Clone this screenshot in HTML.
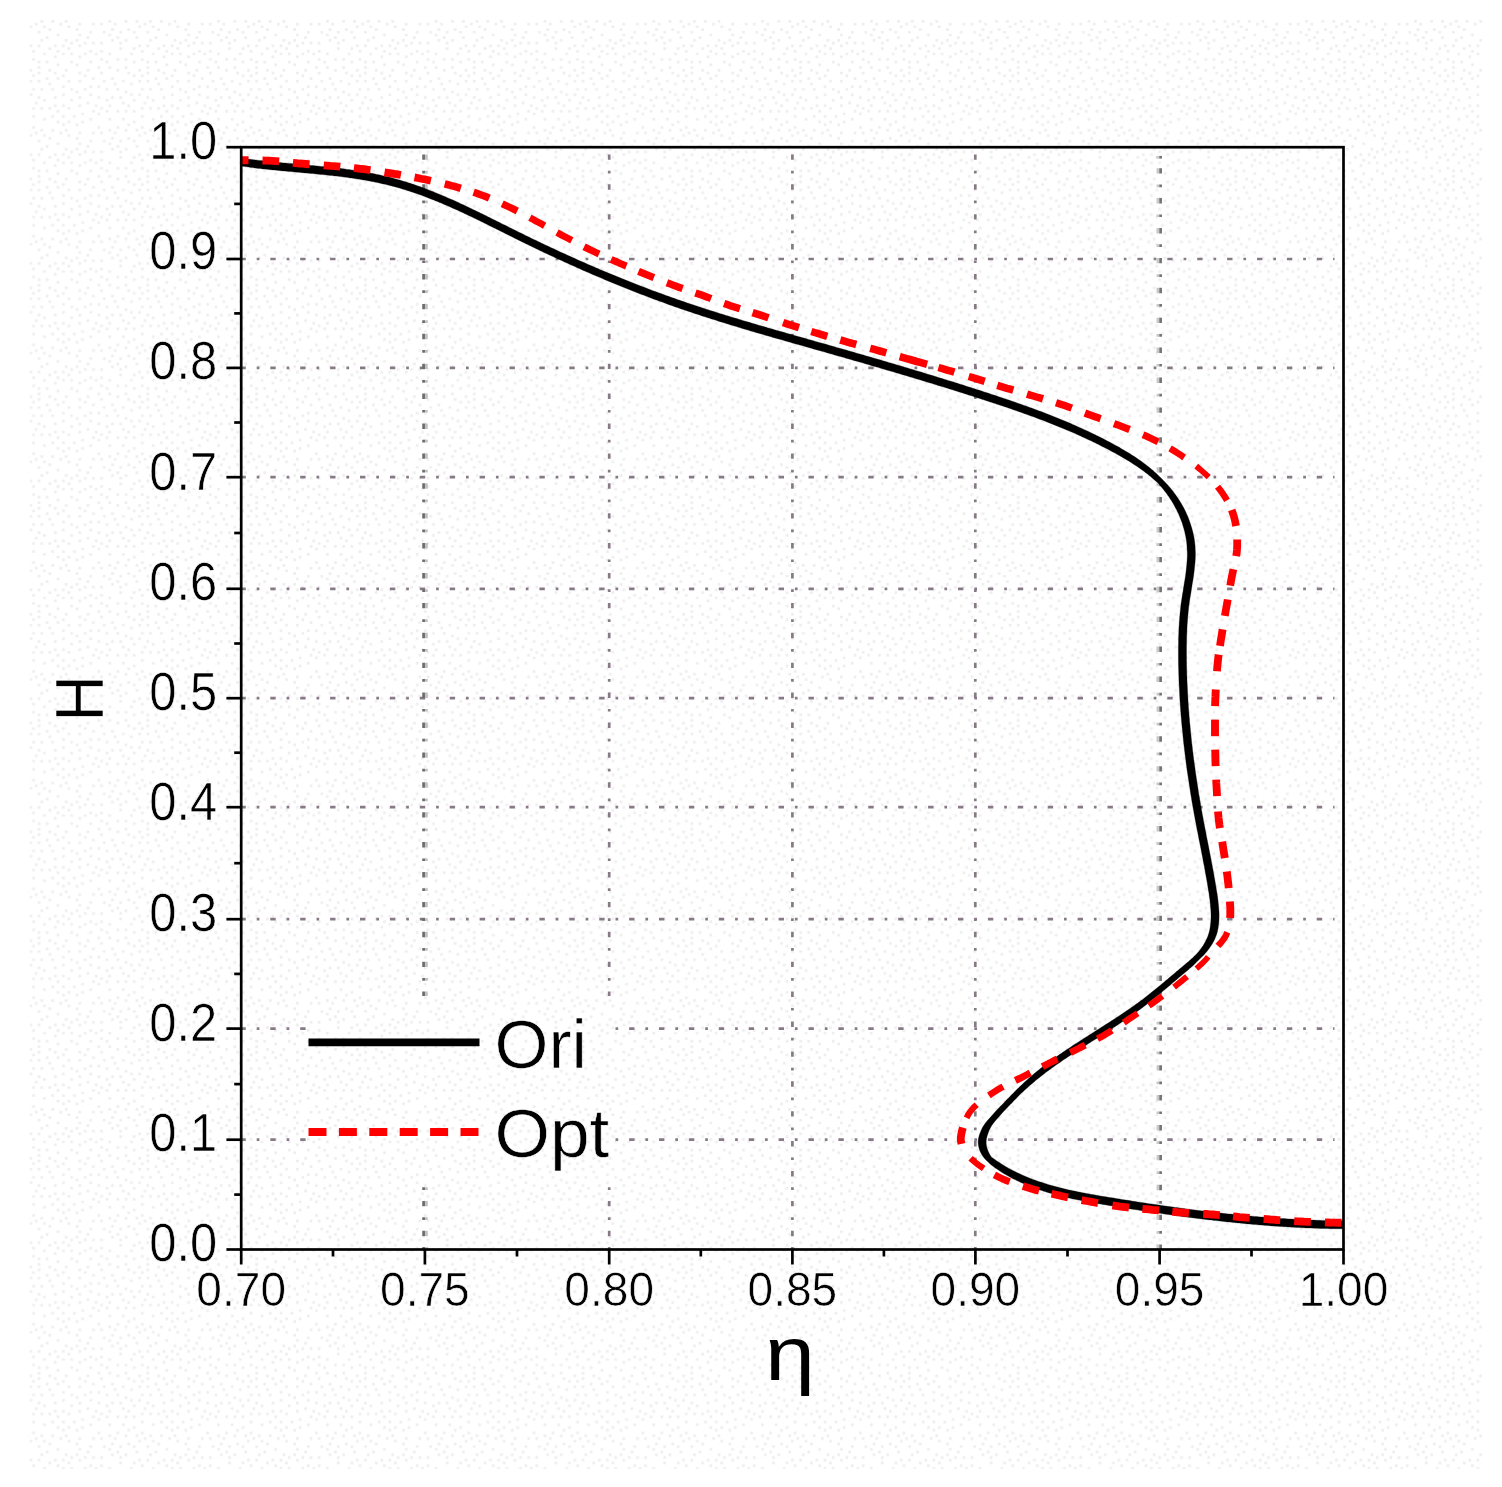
<!DOCTYPE html>
<html lang="en">
<head>
<meta charset="utf-8">
<title>H vs η</title>
<style>
html,body{margin:0;padding:0;background:#fff;}
body{width:1502px;height:1487px;overflow:hidden;}
svg{display:block;}
text{font-family:"Liberation Sans",sans-serif;fill:#000;stroke:#fff;stroke-width:0.6px;}
.tick{font-size:47.5px;}
.ytick{font-size:53px;}
.title{font-size:67px;stroke-width:0.5px;}
.leg{font-size:68px;}
</style>
</head>
<body>
<svg width="1502" height="1487" viewBox="0 0 1502 1487">
<defs>
<pattern id="dots" x="29.5" y="20" width="108.80" height="108.80" patternUnits="userSpaceOnUse">
<path fill="#eeeeee" d="M0.0 5.4h2.7v2.7h-2.7zM0.0 24.5h2.7v2.7h-2.7zM0.0 49.0h2.7v2.7h-2.7zM0.0 59.8h2.7v2.7h-2.7zM0.0 73.4h2.7v2.7h-2.7zM2.7 29.9h2.7v2.7h-2.7zM2.7 38.1h2.7v2.7h-2.7zM2.7 54.4h2.7v2.7h-2.7zM2.7 68.0h2.7v2.7h-2.7zM2.7 87.0h2.7v2.7h-2.7zM2.7 95.2h2.7v2.7h-2.7zM2.7 106.1h2.7v2.7h-2.7zM5.4 2.7h2.7v2.7h-2.7zM5.4 81.6h2.7v2.7h-2.7zM8.2 10.9h2.7v2.7h-2.7zM8.2 24.5h2.7v2.7h-2.7zM8.2 40.8h2.7v2.7h-2.7zM8.2 46.2h2.7v2.7h-2.7zM8.2 51.7h2.7v2.7h-2.7zM8.2 59.8h2.7v2.7h-2.7zM8.2 76.2h2.7v2.7h-2.7zM10.9 0.0h2.7v2.7h-2.7zM10.9 19.0h2.7v2.7h-2.7zM10.9 68.0h2.7v2.7h-2.7zM10.9 87.0h2.7v2.7h-2.7zM13.6 5.4h2.7v2.7h-2.7zM13.6 32.6h2.7v2.7h-2.7zM13.6 78.9h2.7v2.7h-2.7zM13.6 97.9h2.7v2.7h-2.7zM16.3 16.3h2.7v2.7h-2.7zM16.3 40.8h2.7v2.7h-2.7zM16.3 57.1h2.7v2.7h-2.7zM19.0 8.2h2.7v2.7h-2.7zM19.0 27.2h2.7v2.7h-2.7zM19.0 49.0h2.7v2.7h-2.7zM19.0 62.6h2.7v2.7h-2.7zM19.0 87.0h2.7v2.7h-2.7zM21.8 0.0h2.7v2.7h-2.7zM21.8 68.0h2.7v2.7h-2.7zM21.8 95.2h2.7v2.7h-2.7zM24.5 24.5h2.7v2.7h-2.7zM24.5 35.4h2.7v2.7h-2.7zM24.5 51.7h2.7v2.7h-2.7zM24.5 76.2h2.7v2.7h-2.7zM24.5 84.3h2.7v2.7h-2.7zM27.2 13.6h2.7v2.7h-2.7zM27.2 29.9h2.7v2.7h-2.7zM27.2 43.5h2.7v2.7h-2.7zM27.2 57.1h2.7v2.7h-2.7zM27.2 89.8h2.7v2.7h-2.7zM27.2 100.6h2.7v2.7h-2.7zM29.9 2.7h2.7v2.7h-2.7zM32.6 24.5h2.7v2.7h-2.7zM32.6 32.6h2.7v2.7h-2.7zM32.6 54.4h2.7v2.7h-2.7zM32.6 65.3h2.7v2.7h-2.7zM32.6 73.4h2.7v2.7h-2.7zM32.6 84.3h2.7v2.7h-2.7zM32.6 95.2h2.7v2.7h-2.7zM32.6 103.4h2.7v2.7h-2.7zM35.4 0.0h2.7v2.7h-2.7zM35.4 19.0h2.7v2.7h-2.7zM35.4 49.0h2.7v2.7h-2.7zM38.1 5.4h2.7v2.7h-2.7zM38.1 27.2h2.7v2.7h-2.7zM38.1 59.8h2.7v2.7h-2.7zM38.1 87.0h2.7v2.7h-2.7zM38.1 100.6h2.7v2.7h-2.7zM40.8 21.8h2.7v2.7h-2.7zM40.8 32.6h2.7v2.7h-2.7zM40.8 40.8h2.7v2.7h-2.7zM40.8 68.0h2.7v2.7h-2.7zM40.8 78.9h2.7v2.7h-2.7zM43.5 95.2h2.7v2.7h-2.7zM46.2 8.2h2.7v2.7h-2.7zM46.2 19.0h2.7v2.7h-2.7zM46.2 43.5h2.7v2.7h-2.7zM46.2 70.7h2.7v2.7h-2.7zM46.2 103.4h2.7v2.7h-2.7zM49.0 2.7h2.7v2.7h-2.7zM49.0 13.6h2.7v2.7h-2.7zM49.0 24.5h2.7v2.7h-2.7zM49.0 35.4h2.7v2.7h-2.7zM49.0 51.7h2.7v2.7h-2.7zM49.0 59.8h2.7v2.7h-2.7zM49.0 76.2h2.7v2.7h-2.7zM49.0 84.3h2.7v2.7h-2.7zM51.7 92.5h2.7v2.7h-2.7zM51.7 100.6h2.7v2.7h-2.7zM54.4 21.8h2.7v2.7h-2.7zM54.4 32.6h2.7v2.7h-2.7zM54.4 54.4h2.7v2.7h-2.7zM54.4 68.0h2.7v2.7h-2.7zM57.1 16.3h2.7v2.7h-2.7zM57.1 49.0h2.7v2.7h-2.7zM57.1 81.6h2.7v2.7h-2.7zM59.8 10.9h2.7v2.7h-2.7zM59.8 29.9h2.7v2.7h-2.7zM59.8 40.8h2.7v2.7h-2.7zM59.8 65.3h2.7v2.7h-2.7zM59.8 73.4h2.7v2.7h-2.7zM59.8 97.9h2.7v2.7h-2.7zM62.6 2.7h2.7v2.7h-2.7zM62.6 21.8h2.7v2.7h-2.7zM62.6 57.1h2.7v2.7h-2.7zM62.6 89.8h2.7v2.7h-2.7zM65.3 32.6h2.7v2.7h-2.7zM65.3 84.3h2.7v2.7h-2.7zM68.0 46.2h2.7v2.7h-2.7zM68.0 65.3h2.7v2.7h-2.7zM68.0 76.2h2.7v2.7h-2.7zM68.0 92.5h2.7v2.7h-2.7zM68.0 106.1h2.7v2.7h-2.7zM70.7 2.7h2.7v2.7h-2.7zM70.7 21.8h2.7v2.7h-2.7zM70.7 29.9h2.7v2.7h-2.7zM70.7 38.1h2.7v2.7h-2.7zM70.7 51.7h2.7v2.7h-2.7zM70.7 87.0h2.7v2.7h-2.7zM73.4 10.9h2.7v2.7h-2.7zM73.4 59.8h2.7v2.7h-2.7zM76.2 40.8h2.7v2.7h-2.7zM76.2 68.0h2.7v2.7h-2.7zM76.2 78.9h2.7v2.7h-2.7zM76.2 89.8h2.7v2.7h-2.7zM78.9 0.0h2.7v2.7h-2.7zM78.9 13.6h2.7v2.7h-2.7zM78.9 32.6h2.7v2.7h-2.7zM78.9 46.2h2.7v2.7h-2.7zM78.9 84.3h2.7v2.7h-2.7zM78.9 97.9h2.7v2.7h-2.7zM81.6 8.2h2.7v2.7h-2.7zM81.6 19.0h2.7v2.7h-2.7zM81.6 57.1h2.7v2.7h-2.7zM81.6 76.2h2.7v2.7h-2.7zM84.3 2.7h2.7v2.7h-2.7zM84.3 62.6h2.7v2.7h-2.7zM87.0 16.3h2.7v2.7h-2.7zM87.0 38.1h2.7v2.7h-2.7zM87.0 49.0h2.7v2.7h-2.7zM87.0 68.0h2.7v2.7h-2.7zM87.0 89.8h2.7v2.7h-2.7zM87.0 106.1h2.7v2.7h-2.7zM89.8 10.9h2.7v2.7h-2.7zM89.8 21.8h2.7v2.7h-2.7zM89.8 27.2h2.7v2.7h-2.7zM89.8 76.2h2.7v2.7h-2.7zM92.5 59.8h2.7v2.7h-2.7zM92.5 81.6h2.7v2.7h-2.7zM92.5 97.9h2.7v2.7h-2.7zM95.2 0.0h2.7v2.7h-2.7zM95.2 19.0h2.7v2.7h-2.7zM95.2 38.1h2.7v2.7h-2.7zM95.2 46.2h2.7v2.7h-2.7zM95.2 70.7h2.7v2.7h-2.7zM95.2 89.8h2.7v2.7h-2.7zM97.9 8.2h2.7v2.7h-2.7zM97.9 51.7h2.7v2.7h-2.7zM97.9 84.3h2.7v2.7h-2.7zM97.9 103.4h2.7v2.7h-2.7zM100.6 32.6h2.7v2.7h-2.7zM100.6 62.6h2.7v2.7h-2.7zM100.6 73.4h2.7v2.7h-2.7zM103.4 10.9h2.7v2.7h-2.7zM103.4 27.2h2.7v2.7h-2.7zM103.4 40.8h2.7v2.7h-2.7zM103.4 54.4h2.7v2.7h-2.7zM103.4 78.9h2.7v2.7h-2.7zM103.4 89.8h2.7v2.7h-2.7zM103.4 100.6h2.7v2.7h-2.7zM106.1 0.0h2.7v2.7h-2.7zM106.1 16.3h2.7v2.7h-2.7z"/>
</pattern>
</defs>
<rect x="0" y="0" width="1502" height="1487" fill="#ffffff"/>
<rect x="29.5" y="20" width="1452.5" height="1449" fill="url(#dots)"/>
<g stroke="#877a87" stroke-width="2.7" stroke-dasharray="5.4 10.9 2.7 10.9" fill="none">
<line x1="240.4" y1="1139.7" x2="1334.5" y2="1139.7"/>
<line x1="240.4" y1="1028.6" x2="1334.5" y2="1028.6"/>
<line x1="240.4" y1="919.2" x2="1334.5" y2="919.2"/>
<line x1="240.4" y1="807.2" x2="1334.5" y2="807.2"/>
<line x1="240.4" y1="698.2" x2="1334.5" y2="698.2"/>
<line x1="240.4" y1="588.8" x2="1334.5" y2="588.8"/>
<line x1="240.4" y1="477.2" x2="1334.5" y2="477.2"/>
<line x1="240.4" y1="367.9" x2="1334.5" y2="367.9"/>
<line x1="240.4" y1="259.0" x2="1334.5" y2="259.0"/>
</g>
<g stroke-width="2.7" stroke-dasharray="5.4 10.9 2.7 10.9" fill="none">
<line x1="423.6" y1="154.4" x2="423.6" y2="1249.5" stroke="#6c6c6c"/>
<line x1="426.4" y1="154.4" x2="426.4" y2="1249.5" stroke="#c0c0c0"/>
<line x1="609.2" y1="154.4" x2="609.2" y2="1249.5" stroke="#877a87"/>
<line x1="792.4" y1="154.4" x2="792.4" y2="1249.5" stroke="#877a87"/>
<line x1="975.3" y1="154.4" x2="975.3" y2="1249.5" stroke="#877a87"/>
<line x1="1157.9" y1="168.2" x2="1157.9" y2="1249.5" stroke="#c8c8c8"/>
<line x1="1157.9" y1="155.9" x2="1157.9" y2="158.6" stroke="#c8c8c8" stroke-dasharray="none"/>
<line x1="1160.6" y1="168.2" x2="1160.6" y2="1249.5" stroke="#747474"/>
<line x1="1160.6" y1="155.9" x2="1160.6" y2="158.6" stroke="#747474" stroke-dasharray="none"/>
</g>
<rect x="306" y="996" width="308" height="188.5" fill="#ffffff"/>
<rect x="306" y="996" width="308" height="188.5" fill="url(#dots)"/>
<path d="M240.7 166.0 L242.7 166.3 L244.7 166.6 L246.6 166.8 L248.6 167.1 L250.6 167.4 L252.6 167.6 L254.6 167.9 L256.6 168.2 L258.6 168.4 L260.6 168.6 L262.6 168.9 L264.6 169.1 L266.6 169.3 L268.6 169.5 L270.6 169.7 L272.6 169.9 L274.6 170.1 L276.6 170.3 L278.6 170.5 L280.6 170.7 L282.6 170.9 L284.6 171.1 L286.6 171.2 L288.6 171.4 L290.6 171.6 L292.6 171.8 L294.6 172.0 L296.5 172.2 L298.5 172.3 L300.5 172.5 L302.5 172.7 L304.5 172.9 L306.5 173.1 L308.5 173.2 L310.5 173.4 L312.5 173.6 L314.4 173.8 L316.4 174.0 L318.4 174.2 L320.4 174.4 L322.4 174.6 L324.4 174.8 L326.3 175.0 L328.3 175.2 L330.3 175.4 L332.3 175.6 L334.3 175.9 L336.2 176.1 L338.2 176.3 L340.2 176.6 L342.2 176.8 L344.1 177.1 L346.1 177.3 L348.1 177.6 L350.0 177.9 L352.0 178.1 L354.0 178.4 L355.9 178.7 L357.9 179.0 L359.8 179.3 L361.8 179.7 L363.7 180.0 L365.7 180.3 L367.6 180.7 L369.6 181.0 L371.5 181.4 L373.5 181.8 L375.4 182.2 L377.3 182.6 L379.3 183.0 L381.2 183.4 L383.1 183.9 L385.1 184.3 L387.0 184.8 L388.9 185.2 L390.8 185.7 L392.7 186.2 L394.6 186.7 L396.5 187.3 L398.4 187.8 L400.3 188.3 L402.2 188.9 L404.1 189.5 L406.0 190.1 L407.9 190.7 L409.8 191.3 L411.6 191.9 L413.5 192.5 L415.4 193.2 L417.2 193.8 L419.1 194.5 L421.0 195.1 L422.8 195.8 L424.7 196.5 L426.5 197.2 L428.4 197.9 L430.2 198.7 L432.1 199.4 L433.9 200.1 L435.8 200.9 L437.6 201.6 L439.4 202.4 L441.3 203.1 L443.1 203.9 L444.9 204.7 L446.8 205.5 L448.6 206.3 L450.4 207.1 L452.2 207.9 L454.0 208.7 L455.8 209.5 L457.7 210.3 L459.5 211.2 L461.3 212.0 L463.1 212.8 L464.9 213.7 L466.7 214.5 L468.5 215.4 L470.3 216.2 L472.1 217.1 L473.9 218.0 L475.7 218.8 L477.5 219.7 L479.3 220.6 L481.1 221.5 L482.8 222.3 L484.6 223.2 L486.4 224.1 L488.2 225.0 L490.0 225.9 L491.8 226.8 L493.6 227.7 L495.4 228.5 L497.2 229.4 L498.9 230.3 L500.7 231.2 L502.5 232.1 L504.3 233.0 L506.1 233.9 L507.9 234.8 L509.7 235.7 L511.5 236.6 L513.3 237.5 L515.1 238.4 L516.9 239.3 L518.7 240.2 L520.4 241.0 L522.2 241.9 L524.0 242.8 L525.8 243.7 L527.7 244.6 L529.5 245.4 L531.3 246.3 L533.1 247.2 L534.9 248.1 L536.7 248.9 L538.5 249.8 L540.3 250.7 L542.1 251.5 L543.9 252.4 L545.7 253.2 L547.5 254.1 L549.3 254.9 L551.2 255.8 L553.0 256.6 L554.8 257.5 L556.6 258.3 L558.4 259.2 L560.3 260.0 L562.1 260.8 L563.9 261.7 L565.7 262.5 L567.6 263.3 L569.4 264.2 L571.2 265.0 L573.0 265.8 L574.9 266.6 L576.7 267.5 L578.5 268.3 L580.4 269.1 L582.2 269.9 L584.0 270.7 L585.9 271.5 L587.7 272.3 L589.5 273.1 L591.4 273.9 L593.2 274.7 L595.1 275.5 L596.9 276.3 L598.8 277.1 L600.6 277.8 L602.4 278.6 L604.3 279.4 L606.1 280.2 L608.0 281.0 L609.8 281.7 L611.7 282.5 L613.6 283.3 L615.4 284.0 L617.3 284.8 L619.1 285.5 L621.0 286.3 L622.8 287.0 L624.7 287.8 L626.6 288.5 L628.4 289.3 L630.3 290.0 L632.2 290.8 L634.0 291.5 L635.9 292.2 L637.8 293.0 L639.6 293.7 L641.5 294.4 L643.4 295.1 L645.2 295.8 L647.1 296.5 L649.0 297.3 L650.9 298.0 L652.8 298.7 L654.6 299.4 L656.5 300.1 L658.4 300.8 L660.3 301.5 L662.2 302.1 L664.1 302.8 L665.9 303.5 L667.8 304.2 L669.7 304.9 L671.6 305.5 L673.5 306.2 L675.4 306.9 L677.3 307.5 L679.2 308.2 L681.1 308.9 L683.0 309.5 L684.9 310.2 L686.8 310.8 L688.7 311.4 L690.6 312.1 L692.5 312.7 L694.4 313.4 L696.3 314.0 L698.2 314.6 L700.1 315.2 L702.0 315.9 L703.9 316.5 L705.8 317.1 L707.7 317.7 L709.6 318.3 L711.5 318.9 L713.5 319.5 L715.4 320.1 L717.3 320.8 L719.2 321.4 L721.1 321.9 L723.0 322.5 L724.9 323.1 L726.8 323.7 L728.8 324.3 L730.7 324.9 L732.6 325.5 L734.5 326.1 L736.4 326.6 L738.3 327.2 L740.3 327.8 L742.2 328.4 L744.1 329.0 L746.0 329.5 L747.9 330.1 L749.9 330.7 L751.8 331.2 L753.7 331.8 L755.6 332.4 L757.6 332.9 L759.5 333.5 L761.4 334.0 L763.3 334.6 L765.2 335.2 L767.2 335.7 L769.1 336.3 L771.0 336.8 L772.9 337.4 L774.9 337.9 L776.8 338.5 L778.7 339.0 L780.6 339.6 L782.6 340.1 L784.5 340.7 L786.4 341.2 L788.3 341.8 L790.3 342.3 L792.2 342.9 L794.1 343.4 L796.0 344.0 L798.0 344.5 L799.9 345.1 L801.8 345.6 L803.7 346.1 L805.7 346.7 L807.6 347.2 L809.5 347.8 L811.4 348.3 L813.4 348.9 L815.3 349.4 L817.2 350.0 L819.1 350.5 L821.0 351.0 L823.0 351.6 L824.9 352.1 L826.8 352.7 L828.7 353.2 L830.7 353.8 L832.6 354.3 L834.5 354.9 L836.4 355.4 L838.4 356.0 L840.3 356.5 L842.2 357.1 L844.1 357.6 L846.0 358.2 L848.0 358.7 L849.9 359.3 L851.8 359.8 L853.7 360.4 L855.6 360.9 L857.6 361.5 L859.5 362.0 L861.4 362.6 L863.3 363.1 L865.2 363.7 L867.2 364.3 L869.1 364.8 L871.0 365.4 L872.9 365.9 L874.8 366.5 L876.8 367.1 L878.7 367.6 L880.6 368.2 L882.5 368.7 L884.4 369.3 L886.4 369.9 L888.3 370.4 L890.2 371.0 L892.1 371.6 L894.0 372.1 L895.9 372.7 L897.9 373.3 L899.8 373.8 L901.7 374.4 L903.6 375.0 L905.5 375.5 L907.4 376.1 L909.3 376.7 L911.3 377.3 L913.2 377.8 L915.1 378.4 L917.0 379.0 L918.9 379.6 L920.8 380.1 L922.7 380.7 L924.6 381.3 L926.6 381.9 L928.5 382.5 L930.4 383.0 L932.3 383.6 L934.2 384.2 L936.1 384.8 L938.0 385.4 L939.9 386.0 L941.8 386.6 L943.7 387.1 L945.7 387.7 L947.6 388.3 L949.5 388.9 L951.4 389.5 L953.3 390.1 L955.2 390.7 L957.1 391.3 L959.0 391.9 L960.9 392.5 L962.8 393.1 L964.7 393.7 L966.6 394.3 L968.5 394.9 L970.4 395.5 L972.3 396.1 L974.2 396.8 L976.1 397.4 L978.0 398.0 L979.9 398.6 L981.8 399.2 L983.7 399.8 L985.6 400.4 L987.5 401.1 L989.4 401.7 L991.3 402.3 L993.2 402.9 L995.1 403.5 L997.0 404.2 L998.9 404.8 L1000.8 405.4 L1002.7 406.1 L1004.6 406.7 L1006.5 407.3 L1008.4 408.0 L1010.2 408.6 L1012.1 409.3 L1014.0 409.9 L1015.9 410.6 L1017.8 411.2 L1019.7 411.9 L1021.5 412.6 L1023.4 413.2 L1025.3 413.9 L1027.2 414.6 L1029.0 415.3 L1030.9 415.9 L1032.8 416.6 L1034.7 417.3 L1036.5 418.0 L1038.4 418.7 L1040.2 419.4 L1042.1 420.1 L1044.0 420.8 L1045.8 421.5 L1047.7 422.3 L1049.5 423.0 L1051.4 423.7 L1053.2 424.4 L1055.1 425.2 L1056.9 425.9 L1058.8 426.7 L1060.6 427.4 L1062.5 428.2 L1064.3 428.9 L1066.1 429.7 L1068.0 430.5 L1069.8 431.3 L1071.6 432.1 L1073.4 432.8 L1075.2 433.6 L1077.1 434.5 L1078.9 435.3 L1080.7 436.1 L1082.5 436.9 L1084.3 437.7 L1086.1 438.6 L1087.9 439.4 L1089.7 440.3 L1091.5 441.1 L1093.3 442.0 L1095.1 442.8 L1096.9 443.7 L1098.6 444.6 L1100.4 445.5 L1102.2 446.4 L1103.9 447.3 L1105.7 448.2 L1107.5 449.1 L1109.2 450.0 L1111.0 451.0 L1112.7 451.9 L1114.5 452.8 L1116.2 453.8 L1117.9 454.8 L1119.7 455.7 L1121.4 456.7 L1123.1 457.7 L1124.8 458.7 L1126.5 459.7 L1128.2 460.7 L1129.9 461.8 L1131.5 462.8 L1133.2 463.9 L1134.8 465.0 L1136.5 466.1 L1138.1 467.2 L1139.7 468.3 L1141.3 469.4 L1142.9 470.6 L1144.5 471.7 L1146.0 472.9 L1147.6 474.1 L1149.1 475.4 L1150.6 476.6 L1152.1 477.9 L1153.6 479.2 L1155.0 480.4 L1156.5 481.8 L1157.9 483.1 L1159.2 484.6 L1160.5 486.0 L1161.8 487.5 L1163.0 489.0 L1164.2 490.5 L1165.4 492.0 L1166.6 493.6 L1167.7 495.2 L1168.9 496.8 L1169.9 498.4 L1171.0 500.0 L1172.0 501.6 L1173.0 503.3 L1174.0 505.0 L1174.9 506.7 L1175.8 508.4 L1176.7 510.1 L1177.5 511.9 L1178.4 513.6 L1179.2 515.4 L1179.9 517.2 L1180.6 519.0 L1181.3 520.8 L1182.0 522.6 L1182.6 524.4 L1183.1 526.2 L1183.7 528.1 L1184.2 529.9 L1184.7 531.8 L1185.1 533.7 L1185.5 535.5 L1185.9 537.4 L1186.2 539.3 L1186.5 541.2 L1186.7 543.1 L1186.9 545.0 L1187.0 546.9 L1187.1 548.8 L1187.2 550.7 L1187.3 552.7 L1187.3 554.6 L1187.3 556.5 L1187.2 558.4 L1187.1 560.3 L1187.0 562.3 L1186.8 564.2 L1186.6 566.1 L1186.4 568.1 L1186.2 570.1 L1186.0 572.0 L1185.7 574.0 L1185.5 575.9 L1185.2 577.8 L1184.9 579.8 L1184.5 581.8 L1184.2 583.7 L1183.9 585.7 L1183.6 587.7 L1183.3 589.7 L1183.0 591.7 L1182.6 593.6 L1182.3 595.6 L1182.0 597.6 L1181.7 599.6 L1181.4 601.6 L1181.1 603.6 L1180.8 605.6 L1180.6 607.7 L1180.4 609.7 L1180.2 611.7 L1180.0 613.7 L1179.8 615.7 L1179.6 617.7 L1179.5 619.8 L1179.3 621.8 L1179.2 623.8 L1179.1 625.8 L1178.9 627.9 L1178.9 629.9 L1178.8 631.9 L1178.7 633.9 L1178.6 635.9 L1178.6 637.9 L1178.5 640.0 L1178.5 642.0 L1178.5 644.0 L1178.4 646.0 L1178.4 648.0 L1178.4 650.0 L1178.4 652.0 L1178.4 654.0 L1178.4 656.1 L1178.4 658.1 L1178.4 660.1 L1178.5 662.1 L1178.5 664.1 L1178.5 666.1 L1178.6 668.1 L1178.6 670.1 L1178.7 672.1 L1178.7 674.2 L1178.8 676.2 L1178.9 678.2 L1178.9 680.2 L1179.0 682.2 L1179.1 684.2 L1179.2 686.2 L1179.3 688.2 L1179.4 690.2 L1179.5 692.2 L1179.6 694.2 L1179.7 696.2 L1179.8 698.3 L1179.9 700.3 L1180.1 702.3 L1180.2 704.3 L1180.3 706.3 L1180.5 708.3 L1180.6 710.3 L1180.8 712.3 L1180.9 714.3 L1181.1 716.3 L1181.3 718.3 L1181.4 720.3 L1181.6 722.3 L1181.8 724.3 L1182.0 726.3 L1182.2 728.3 L1182.4 730.3 L1182.6 732.3 L1182.8 734.3 L1183.0 736.3 L1183.2 738.3 L1183.4 740.3 L1183.6 742.3 L1183.8 744.3 L1184.1 746.3 L1184.3 748.3 L1184.5 750.3 L1184.8 752.3 L1185.0 754.3 L1185.3 756.2 L1185.5 758.2 L1185.8 760.2 L1186.0 762.2 L1186.3 764.2 L1186.6 766.2 L1186.8 768.2 L1187.1 770.2 L1187.4 772.2 L1187.7 774.2 L1188.0 776.1 L1188.3 778.1 L1188.6 780.1 L1188.9 782.1 L1189.2 784.1 L1189.5 786.1 L1189.8 788.1 L1190.1 790.0 L1190.4 792.0 L1190.7 794.0 L1191.1 796.0 L1191.4 798.0 L1191.7 799.9 L1192.0 801.9 L1192.4 803.9 L1192.7 805.9 L1193.1 807.9 L1193.4 809.8 L1193.8 811.8 L1194.1 813.8 L1194.5 815.8 L1194.9 817.7 L1195.2 819.7 L1195.6 821.7 L1196.0 823.6 L1196.3 825.6 L1196.7 827.6 L1197.1 829.6 L1197.5 831.5 L1197.9 833.5 L1198.3 835.4 L1198.6 837.4 L1199.0 839.4 L1199.4 841.3 L1199.8 843.3 L1200.2 845.3 L1200.6 847.2 L1201.0 849.2 L1201.3 851.1 L1201.7 853.1 L1202.1 855.1 L1202.5 857.0 L1202.9 859.0 L1203.2 861.0 L1203.6 862.9 L1204.0 864.9 L1204.4 866.8 L1204.7 868.8 L1205.1 870.7 L1205.4 872.7 L1205.8 874.7 L1206.1 876.6 L1206.5 878.6 L1206.8 880.6 L1207.2 882.5 L1207.5 884.5 L1207.8 886.4 L1208.1 888.4 L1208.4 890.4 L1208.8 892.3 L1209.1 894.3 L1209.3 896.2 L1209.6 898.2 L1209.9 900.1 L1210.1 902.0 L1210.3 904.0 L1210.4 906.0 L1210.6 907.9 L1210.8 909.9 L1210.9 911.8 L1211.0 913.7 L1211.0 915.6 L1211.0 917.5 L1210.9 919.4 L1210.8 921.3 L1210.6 923.2 L1210.4 925.1 L1210.2 926.9 L1209.9 928.7 L1209.6 930.5 L1209.1 932.3 L1208.6 934.0 L1208.0 935.7 L1207.4 937.4 L1206.6 939.1 L1205.8 940.8 L1204.9 942.5 L1204.0 944.1 L1203.0 945.7 L1201.9 947.3 L1200.9 948.8 L1199.7 950.3 L1198.5 951.8 L1197.2 953.3 L1195.9 954.7 L1194.4 956.1 L1193.0 957.4 L1191.6 958.8 L1190.1 960.1 L1188.7 961.4 L1187.2 962.6 L1185.6 963.9 L1184.1 965.2 L1182.6 966.4 L1181.1 967.7 L1179.5 969.0 L1178.0 970.4 L1176.5 971.6 L1175.0 972.9 L1173.4 974.2 L1171.9 975.5 L1170.4 976.8 L1168.9 978.1 L1167.3 979.4 L1165.8 980.6 L1164.3 981.9 L1162.7 983.2 L1161.2 984.5 L1159.7 985.8 L1158.1 987.1 L1156.6 988.3 L1155.0 989.6 L1153.5 990.8 L1151.9 992.1 L1150.4 993.3 L1148.8 994.5 L1147.3 995.8 L1145.7 997.0 L1144.1 998.2 L1142.6 999.4 L1141.0 1000.6 L1139.4 1001.8 L1137.8 1002.9 L1136.2 1004.1 L1134.6 1005.2 L1132.9 1006.4 L1131.3 1007.5 L1129.7 1008.7 L1128.1 1009.8 L1126.4 1010.9 L1124.8 1012.1 L1123.1 1013.2 L1121.5 1014.3 L1119.8 1015.4 L1118.2 1016.5 L1116.5 1017.6 L1114.8 1018.7 L1113.2 1019.8 L1111.5 1020.8 L1109.8 1021.9 L1108.2 1023.0 L1106.5 1024.1 L1104.8 1025.1 L1103.1 1026.2 L1101.4 1027.3 L1099.7 1028.4 L1098.1 1029.4 L1096.4 1030.5 L1094.7 1031.6 L1093.0 1032.7 L1091.3 1033.7 L1089.6 1034.8 L1087.9 1035.9 L1086.2 1037.0 L1084.5 1038.0 L1082.9 1039.1 L1081.2 1040.2 L1079.5 1041.3 L1077.8 1042.4 L1076.1 1043.4 L1074.4 1044.5 L1072.8 1045.6 L1071.1 1046.8 L1069.4 1047.9 L1067.7 1049.0 L1066.1 1050.1 L1064.4 1051.2 L1062.7 1052.3 L1061.1 1053.5 L1059.4 1054.6 L1057.8 1055.8 L1056.1 1056.9 L1054.5 1058.1 L1052.8 1059.3 L1051.2 1060.4 L1049.6 1061.6 L1048.0 1062.8 L1046.3 1064.0 L1044.7 1065.3 L1043.1 1066.5 L1041.5 1067.7 L1039.9 1069.0 L1038.4 1070.2 L1036.8 1071.5 L1035.2 1072.8 L1033.7 1074.1 L1032.1 1075.4 L1030.6 1076.7 L1029.1 1078.0 L1027.6 1079.4 L1026.1 1080.8 L1024.6 1082.1 L1023.1 1083.5 L1021.6 1084.9 L1020.2 1086.3 L1018.7 1087.7 L1017.3 1089.1 L1015.8 1090.5 L1014.4 1092.0 L1013.0 1093.4 L1011.6 1094.8 L1010.2 1096.3 L1008.8 1097.7 L1007.4 1099.1 L1006.0 1100.6 L1004.6 1102.0 L1003.2 1103.4 L1001.8 1104.9 L1000.4 1106.3 L999.0 1107.8 L997.6 1109.3 L996.2 1110.7 L994.8 1112.3 L993.5 1113.8 L992.2 1115.2 L990.9 1116.7 L989.5 1118.3 L988.1 1119.8 L986.7 1121.4 L985.4 1123.1 L984.1 1124.9 L982.9 1126.8 L981.9 1128.7 L981.0 1130.7 L980.2 1132.7 L979.4 1134.8 L978.8 1137.0 L978.3 1139.3 L978.1 1141.6 L978.2 1144.1 L978.6 1146.4 L979.2 1148.7 L979.9 1150.9 L980.9 1153.0 L982.0 1154.9 L983.2 1156.8 L984.6 1158.6 L986.2 1160.2 L987.9 1161.7 L989.4 1163.3 L991.0 1164.8 L992.7 1166.1 L994.3 1167.3 L996.0 1168.4 L997.7 1169.6 L999.4 1170.7 L1001.1 1171.8 L1002.8 1173.0 L1004.6 1174.0 L1006.4 1175.1 L1008.2 1176.1 L1009.9 1177.0 L1011.7 1178.0 L1013.5 1178.9 L1015.4 1179.8 L1017.2 1180.7 L1019.0 1181.6 L1020.9 1182.5 L1022.8 1183.3 L1024.6 1184.1 L1026.5 1184.9 L1028.4 1185.7 L1030.3 1186.4 L1032.2 1187.2 L1034.1 1187.9 L1036.0 1188.6 L1037.9 1189.3 L1039.8 1189.9 L1041.8 1190.6 L1043.7 1191.2 L1045.6 1191.8 L1047.6 1192.4 L1049.5 1193.0 L1051.5 1193.6 L1053.4 1194.1 L1055.4 1194.6 L1057.3 1195.2 L1059.3 1195.7 L1061.2 1196.2 L1063.2 1196.6 L1065.2 1197.1 L1067.2 1197.6 L1069.1 1198.0 L1071.1 1198.5 L1073.1 1198.9 L1075.0 1199.3 L1077.0 1199.7 L1079.0 1200.1 L1081.0 1200.5 L1083.0 1200.9 L1084.9 1201.3 L1086.9 1201.6 L1088.9 1202.0 L1090.9 1202.4 L1092.8 1202.7 L1094.8 1203.1 L1096.8 1203.4 L1098.8 1203.7 L1100.8 1204.1 L1102.7 1204.4 L1104.7 1204.7 L1106.7 1205.1 L1108.7 1205.4 L1110.6 1205.7 L1112.6 1206.0 L1114.6 1206.3 L1116.6 1206.7 L1118.6 1207.0 L1120.5 1207.3 L1122.5 1207.6 L1124.5 1207.9 L1126.5 1208.2 L1128.4 1208.5 L1130.4 1208.9 L1132.4 1209.2 L1134.4 1209.5 L1136.4 1209.8 L1138.3 1210.1 L1140.3 1210.4 L1142.3 1210.7 L1144.3 1211.0 L1146.3 1211.3 L1148.2 1211.6 L1150.2 1211.9 L1152.2 1212.2 L1154.2 1212.5 L1156.2 1212.8 L1158.1 1213.1 L1160.1 1213.3 L1162.1 1213.6 L1164.1 1213.9 L1166.1 1214.2 L1168.1 1214.5 L1170.0 1214.8 L1172.0 1215.0 L1174.0 1215.3 L1176.0 1215.6 L1178.0 1215.9 L1180.0 1216.1 L1182.0 1216.4 L1183.9 1216.7 L1185.9 1216.9 L1187.9 1217.2 L1189.9 1217.4 L1191.9 1217.7 L1193.9 1217.9 L1195.9 1218.2 L1197.9 1218.4 L1199.9 1218.7 L1201.8 1218.9 L1203.8 1219.2 L1205.8 1219.4 L1207.8 1219.7 L1209.8 1219.9 L1211.8 1220.1 L1213.8 1220.4 L1215.8 1220.6 L1217.8 1220.8 L1219.8 1221.0 L1221.8 1221.3 L1223.7 1221.5 L1225.7 1221.7 L1227.7 1221.9 L1229.7 1222.1 L1231.7 1222.3 L1233.7 1222.5 L1235.7 1222.7 L1237.7 1222.9 L1239.7 1223.1 L1241.7 1223.3 L1243.7 1223.5 L1245.7 1223.7 L1247.7 1223.9 L1249.7 1224.1 L1251.7 1224.3 L1253.7 1224.4 L1255.7 1224.6 L1257.7 1224.8 L1259.7 1224.9 L1261.7 1225.1 L1263.7 1225.3 L1265.7 1225.4 L1267.7 1225.6 L1269.7 1225.7 L1271.7 1225.9 L1273.7 1226.0 L1275.7 1226.2 L1277.7 1226.3 L1279.7 1226.4 L1281.7 1226.6 L1283.7 1226.7 L1285.7 1226.8 L1287.7 1226.9 L1289.7 1227.1 L1291.7 1227.2 L1293.7 1227.3 L1295.7 1227.4 L1297.7 1227.5 L1299.7 1227.6 L1301.7 1227.7 L1303.7 1227.8 L1305.7 1227.9 L1307.8 1228.0 L1309.8 1228.1 L1311.8 1228.1 L1313.8 1228.2 L1315.8 1228.3 L1317.8 1228.3 L1319.8 1228.4 L1321.8 1228.5 L1323.8 1228.5 L1325.8 1228.6 L1327.8 1228.6 L1329.8 1228.7 L1331.8 1228.7 L1333.8 1228.7 L1335.8 1228.8 L1337.9 1228.8 L1339.9 1228.8 L1341.8 1228.8 L1342.5 1228.9 L1342.7 1220.8 L1342.0 1220.7 L1340.0 1220.7 L1338.0 1220.7 L1336.0 1220.7 L1334.0 1220.6 L1332.0 1220.6 L1330.0 1220.6 L1328.0 1220.5 L1326.0 1220.5 L1324.0 1220.4 L1322.0 1220.4 L1320.0 1220.3 L1318.0 1220.3 L1316.1 1220.2 L1314.1 1220.1 L1312.1 1220.0 L1310.1 1220.0 L1308.1 1219.9 L1306.1 1219.8 L1304.1 1219.7 L1302.1 1219.6 L1300.1 1219.5 L1298.1 1219.4 L1296.1 1219.3 L1294.2 1219.2 L1292.2 1219.1 L1290.2 1219.0 L1288.2 1218.9 L1286.2 1218.8 L1284.2 1218.6 L1282.2 1218.5 L1280.2 1218.4 L1278.2 1218.2 L1276.3 1218.1 L1274.3 1218.0 L1272.3 1217.8 L1270.3 1217.7 L1268.3 1217.5 L1266.3 1217.4 L1264.3 1217.2 L1262.3 1217.1 L1260.3 1216.9 L1258.4 1216.7 L1256.4 1216.6 L1254.4 1216.4 L1252.4 1216.2 L1250.4 1216.0 L1248.4 1215.9 L1246.4 1215.7 L1244.5 1215.5 L1242.5 1215.3 L1240.5 1215.1 L1238.5 1214.9 L1236.5 1214.7 L1234.5 1214.5 L1232.6 1214.3 L1230.6 1214.1 L1228.6 1213.9 L1226.6 1213.7 L1224.6 1213.5 L1222.6 1213.3 L1220.7 1213.0 L1218.7 1212.8 L1216.7 1212.6 L1214.7 1212.4 L1212.7 1212.1 L1210.7 1211.9 L1208.8 1211.7 L1206.8 1211.4 L1204.8 1211.2 L1202.8 1211.0 L1200.8 1210.7 L1198.9 1210.5 L1196.9 1210.2 L1194.9 1210.0 L1192.9 1209.7 L1190.9 1209.5 L1189.0 1209.2 L1187.0 1209.0 L1185.0 1208.7 L1183.0 1208.4 L1181.0 1208.2 L1179.1 1207.9 L1177.1 1207.6 L1175.1 1207.4 L1173.1 1207.1 L1171.2 1206.8 L1169.2 1206.5 L1167.2 1206.3 L1165.2 1206.0 L1163.3 1205.7 L1161.3 1205.4 L1159.3 1205.1 L1157.3 1204.8 L1155.3 1204.5 L1153.4 1204.3 L1151.4 1204.0 L1149.4 1203.7 L1147.4 1203.4 L1145.5 1203.1 L1143.5 1202.8 L1141.5 1202.5 L1139.5 1202.2 L1137.6 1201.9 L1135.6 1201.6 L1133.6 1201.3 L1131.7 1201.0 L1129.7 1200.6 L1127.7 1200.3 L1125.7 1200.0 L1123.8 1199.7 L1121.8 1199.4 L1119.8 1199.1 L1117.8 1198.8 L1115.9 1198.4 L1113.9 1198.1 L1111.9 1197.8 L1110.0 1197.5 L1108.0 1197.2 L1106.0 1196.8 L1104.0 1196.5 L1102.1 1196.2 L1100.1 1195.9 L1098.2 1195.5 L1096.2 1195.2 L1094.2 1194.8 L1092.3 1194.5 L1090.3 1194.2 L1088.3 1193.8 L1086.4 1193.4 L1084.4 1193.1 L1082.5 1192.7 L1080.5 1192.3 L1078.6 1191.9 L1076.7 1191.5 L1074.7 1191.1 L1072.8 1190.7 L1070.8 1190.3 L1068.9 1189.9 L1067.0 1189.4 L1065.1 1189.0 L1063.1 1188.5 L1061.2 1188.1 L1059.3 1187.6 L1057.4 1187.1 L1055.5 1186.6 L1053.6 1186.0 L1051.7 1185.5 L1049.8 1185.0 L1047.9 1184.4 L1046.0 1183.8 L1044.1 1183.2 L1042.3 1182.6 L1040.4 1182.0 L1038.5 1181.4 L1036.7 1180.7 L1034.8 1180.1 L1033.0 1179.4 L1031.2 1178.7 L1029.3 1178.0 L1027.5 1177.2 L1025.7 1176.5 L1023.9 1175.7 L1022.1 1174.9 L1020.3 1174.1 L1018.6 1173.3 L1016.8 1172.4 L1015.0 1171.5 L1013.3 1170.7 L1011.5 1169.8 L1009.8 1168.9 L1008.1 1167.9 L1006.4 1167.0 L1004.7 1166.0 L1003.1 1165.0 L1001.4 1163.9 L999.8 1162.8 L998.1 1161.8 L996.5 1160.7 L994.9 1159.6 L993.4 1158.6 L991.9 1157.5 L990.8 1156.2 L989.9 1154.7 L989.1 1153.2 L988.3 1151.6 L987.7 1149.9 L987.1 1148.3 L986.7 1146.7 L986.4 1145.0 L986.2 1143.4 L986.2 1141.9 L986.3 1140.3 L986.5 1138.6 L986.9 1136.9 L987.4 1135.2 L988.0 1133.5 L988.6 1131.8 L989.3 1130.1 L990.1 1128.5 L990.9 1126.9 L991.9 1125.3 L993.0 1123.8 L994.2 1122.3 L995.4 1120.8 L996.7 1119.3 L998.1 1117.8 L999.4 1116.3 L1000.7 1114.8 L1002.0 1113.3 L1003.3 1111.8 L1004.6 1110.4 L1006.0 1108.9 L1007.4 1107.5 L1008.8 1106.1 L1010.2 1104.6 L1011.6 1103.2 L1013.0 1101.8 L1014.3 1100.3 L1015.7 1098.9 L1017.1 1097.5 L1018.5 1096.0 L1019.9 1094.6 L1021.3 1093.3 L1022.8 1091.9 L1024.2 1090.6 L1025.7 1089.2 L1027.1 1087.9 L1028.6 1086.6 L1030.1 1085.3 L1031.6 1084.0 L1033.1 1082.7 L1034.6 1081.4 L1036.1 1080.1 L1037.6 1078.9 L1039.2 1077.7 L1040.7 1076.4 L1042.3 1075.2 L1043.9 1074.0 L1045.4 1072.8 L1047.0 1071.6 L1048.6 1070.4 L1050.2 1069.3 L1051.8 1068.1 L1053.4 1066.9 L1055.0 1065.8 L1056.7 1064.6 L1058.3 1063.5 L1059.9 1062.4 L1061.6 1061.2 L1063.2 1060.1 L1064.8 1059.0 L1066.5 1057.9 L1068.1 1056.8 L1069.8 1055.7 L1071.5 1054.6 L1073.1 1053.5 L1074.8 1052.4 L1076.5 1051.3 L1078.1 1050.2 L1079.8 1049.2 L1081.5 1048.1 L1083.2 1047.0 L1084.8 1045.9 L1086.5 1044.9 L1088.2 1043.8 L1089.9 1042.7 L1091.6 1041.6 L1093.3 1040.6 L1095.0 1039.5 L1096.7 1038.4 L1098.3 1037.4 L1100.0 1036.3 L1101.7 1035.2 L1103.4 1034.1 L1105.1 1033.1 L1106.8 1032.0 L1108.5 1030.9 L1110.2 1029.8 L1111.8 1028.7 L1113.5 1027.6 L1115.2 1026.5 L1116.9 1025.4 L1118.6 1024.3 L1120.2 1023.2 L1121.9 1022.1 L1123.6 1021.0 L1125.2 1019.9 L1126.9 1018.7 L1128.6 1017.6 L1130.2 1016.4 L1131.9 1015.3 L1133.5 1014.1 L1135.1 1012.9 L1136.8 1011.8 L1138.4 1010.6 L1140.0 1009.4 L1141.6 1008.2 L1143.3 1007.0 L1144.9 1005.7 L1146.5 1004.5 L1148.1 1003.3 L1149.6 1002.0 L1151.2 1000.8 L1152.8 999.5 L1154.3 998.2 L1155.9 997.0 L1157.5 995.7 L1159.0 994.4 L1160.6 993.1 L1162.1 991.8 L1163.6 990.6 L1165.2 989.3 L1166.7 988.0 L1168.2 986.7 L1169.8 985.4 L1171.3 984.1 L1172.8 982.8 L1174.4 981.5 L1175.9 980.2 L1177.4 978.9 L1179.0 977.6 L1180.5 976.3 L1182.0 975.0 L1183.5 973.8 L1185.0 972.5 L1186.6 971.2 L1188.1 969.9 L1189.6 968.6 L1191.2 967.2 L1192.7 965.9 L1194.2 964.5 L1195.6 963.0 L1197.1 961.6 L1198.5 960.2 L1199.9 958.7 L1201.4 957.3 L1202.9 955.9 L1204.3 954.4 L1205.7 952.8 L1207.1 951.2 L1208.4 949.5 L1209.7 947.8 L1210.8 946.1 L1212.0 944.3 L1213.0 942.4 L1214.1 940.5 L1215.0 938.6 L1215.8 936.6 L1216.6 934.5 L1217.2 932.4 L1217.7 930.3 L1218.1 928.2 L1218.4 926.1 L1218.7 924.0 L1218.9 921.9 L1219.0 919.8 L1219.1 917.7 L1219.1 915.6 L1219.1 913.4 L1219.0 911.4 L1218.8 909.3 L1218.7 907.3 L1218.5 905.2 L1218.3 903.2 L1218.1 901.2 L1217.8 899.1 L1217.6 897.1 L1217.3 895.1 L1217.0 893.1 L1216.6 891.1 L1216.3 889.1 L1216.0 887.1 L1215.7 885.2 L1215.4 883.2 L1215.0 881.2 L1214.7 879.2 L1214.3 877.2 L1214.0 875.2 L1213.6 873.3 L1213.3 871.3 L1212.9 869.3 L1212.5 867.3 L1212.2 865.4 L1211.8 863.4 L1211.4 861.4 L1211.1 859.5 L1210.7 857.5 L1210.3 855.5 L1209.9 853.6 L1209.5 851.6 L1209.1 849.6 L1208.8 847.7 L1208.4 845.7 L1208.0 843.7 L1207.6 841.8 L1207.2 839.8 L1206.8 837.8 L1206.4 835.9 L1206.1 833.9 L1205.7 832.0 L1205.3 830.0 L1204.9 828.0 L1204.5 826.1 L1204.2 824.1 L1203.8 822.2 L1203.4 820.2 L1203.1 818.2 L1202.7 816.3 L1202.3 814.3 L1202.0 812.4 L1201.6 810.4 L1201.3 808.4 L1200.9 806.5 L1200.6 804.5 L1200.3 802.5 L1199.9 800.6 L1199.6 798.6 L1199.3 796.6 L1198.9 794.7 L1198.6 792.7 L1198.3 790.7 L1198.0 788.8 L1197.7 786.8 L1197.4 784.8 L1197.1 782.9 L1196.8 780.9 L1196.5 778.9 L1196.2 777.0 L1195.9 775.0 L1195.6 773.0 L1195.3 771.0 L1195.1 769.1 L1194.8 767.1 L1194.5 765.1 L1194.3 763.2 L1194.0 761.2 L1193.7 759.2 L1193.5 757.2 L1193.2 755.3 L1193.0 753.3 L1192.7 751.3 L1192.5 749.3 L1192.3 747.3 L1192.1 745.4 L1191.8 743.4 L1191.6 741.4 L1191.4 739.4 L1191.2 737.4 L1191.0 735.5 L1190.8 733.5 L1190.6 731.5 L1190.4 729.5 L1190.2 727.5 L1190.0 725.6 L1189.8 723.6 L1189.6 721.6 L1189.5 719.6 L1189.3 717.6 L1189.1 715.6 L1189.0 713.7 L1188.8 711.7 L1188.7 709.7 L1188.5 707.7 L1188.4 705.7 L1188.3 703.7 L1188.1 701.7 L1188.0 699.8 L1187.9 697.8 L1187.8 695.8 L1187.7 693.8 L1187.6 691.8 L1187.5 689.8 L1187.4 687.8 L1187.3 685.8 L1187.2 683.9 L1187.1 681.9 L1187.0 679.9 L1187.0 677.9 L1186.9 675.9 L1186.8 673.9 L1186.8 671.9 L1186.7 669.9 L1186.7 668.0 L1186.6 666.0 L1186.6 664.0 L1186.6 662.0 L1186.5 660.0 L1186.5 658.0 L1186.5 656.0 L1186.5 654.0 L1186.5 652.0 L1186.5 650.1 L1186.5 648.1 L1186.5 646.1 L1186.6 644.1 L1186.6 642.1 L1186.6 640.1 L1186.7 638.1 L1186.7 636.2 L1186.8 634.2 L1186.9 632.2 L1186.9 630.2 L1187.0 628.2 L1187.1 626.3 L1187.2 624.3 L1187.4 622.3 L1187.5 620.4 L1187.7 618.4 L1187.8 616.4 L1188.0 614.5 L1188.2 612.5 L1188.4 610.5 L1188.6 608.6 L1188.8 606.6 L1189.1 604.7 L1189.3 602.7 L1189.6 600.8 L1189.9 598.8 L1190.2 596.9 L1190.5 594.9 L1190.9 592.9 L1191.2 590.9 L1191.5 589.0 L1191.8 587.0 L1192.1 585.0 L1192.4 583.1 L1192.8 581.1 L1193.1 579.1 L1193.4 577.1 L1193.7 575.0 L1193.9 573.0 L1194.2 571.0 L1194.4 569.0 L1194.6 567.0 L1194.8 564.9 L1195.0 562.9 L1195.2 560.8 L1195.3 558.8 L1195.4 556.7 L1195.4 554.6 L1195.4 552.5 L1195.3 550.4 L1195.2 548.4 L1195.1 546.3 L1194.9 544.2 L1194.7 542.1 L1194.4 540.1 L1194.1 538.0 L1193.7 535.9 L1193.3 533.9 L1192.8 531.9 L1192.3 529.9 L1191.7 527.8 L1191.1 525.9 L1190.5 523.9 L1189.8 521.9 L1189.1 520.0 L1188.4 518.0 L1187.6 516.1 L1186.7 514.2 L1185.9 512.3 L1185.0 510.5 L1184.1 508.6 L1183.1 506.8 L1182.1 505.0 L1181.1 503.2 L1180.0 501.4 L1178.9 499.7 L1177.8 498.0 L1176.6 496.3 L1175.4 494.6 L1174.2 492.9 L1173.0 491.3 L1171.7 489.7 L1170.4 488.1 L1169.0 486.5 L1167.7 485.0 L1166.3 483.5 L1164.9 482.0 L1163.4 480.5 L1162.0 479.1 L1160.5 477.6 L1159.1 476.2 L1157.6 474.7 L1156.1 473.3 L1154.6 472.0 L1153.1 470.6 L1151.5 469.3 L1150.0 468.0 L1148.4 466.7 L1146.8 465.4 L1145.2 464.2 L1143.5 462.9 L1141.9 461.7 L1140.2 460.6 L1138.6 459.4 L1136.9 458.3 L1135.2 457.1 L1133.5 456.0 L1131.8 454.9 L1130.1 453.8 L1128.4 452.8 L1126.6 451.7 L1124.9 450.7 L1123.2 449.7 L1121.4 448.7 L1119.7 447.6 L1117.9 446.6 L1116.1 445.7 L1114.4 444.7 L1112.6 443.7 L1110.8 442.8 L1109.0 441.8 L1107.3 440.9 L1105.5 440.0 L1103.7 439.0 L1101.9 438.1 L1100.1 437.2 L1098.3 436.3 L1096.5 435.4 L1094.7 434.5 L1092.9 433.7 L1091.0 432.8 L1089.2 431.9 L1087.4 431.1 L1085.6 430.2 L1083.8 429.4 L1081.9 428.5 L1080.1 427.7 L1078.3 426.9 L1076.4 426.1 L1074.6 425.2 L1072.7 424.4 L1070.9 423.6 L1069.0 422.8 L1067.2 422.1 L1065.3 421.3 L1063.5 420.5 L1061.6 419.7 L1059.8 419.0 L1057.9 418.2 L1056.0 417.5 L1054.2 416.7 L1052.3 416.0 L1050.4 415.2 L1048.6 414.5 L1046.7 413.8 L1044.8 413.0 L1042.9 412.3 L1041.1 411.6 L1039.2 410.9 L1037.3 410.2 L1035.4 409.5 L1033.5 408.8 L1031.6 408.1 L1029.8 407.4 L1027.9 406.7 L1026.0 406.1 L1024.1 405.4 L1022.2 404.7 L1020.3 404.0 L1018.4 403.4 L1016.5 402.7 L1014.6 402.0 L1012.7 401.4 L1010.8 400.7 L1008.9 400.1 L1007.0 399.4 L1005.1 398.8 L1003.2 398.2 L1001.3 397.5 L999.4 396.9 L997.5 396.3 L995.6 395.6 L993.7 395.0 L991.8 394.4 L989.9 393.7 L988.0 393.1 L986.1 392.5 L984.2 391.9 L982.3 391.3 L980.4 390.6 L978.5 390.0 L976.6 389.4 L974.7 388.8 L972.8 388.2 L970.9 387.6 L969.0 387.0 L967.1 386.4 L965.1 385.8 L963.2 385.1 L961.3 384.5 L959.4 383.9 L957.5 383.3 L955.6 382.7 L953.7 382.1 L951.8 381.5 L949.9 380.9 L948.0 380.4 L946.0 379.8 L944.1 379.2 L942.2 378.6 L940.3 378.0 L938.4 377.4 L936.5 376.8 L934.6 376.2 L932.6 375.6 L930.7 375.0 L928.8 374.5 L926.9 373.9 L925.0 373.3 L923.1 372.7 L921.2 372.1 L919.2 371.6 L917.3 371.0 L915.4 370.4 L913.5 369.8 L911.6 369.2 L909.7 368.7 L907.7 368.1 L905.8 367.5 L903.9 367.0 L902.0 366.4 L900.1 365.8 L898.1 365.2 L896.2 364.7 L894.3 364.1 L892.4 363.5 L890.5 363.0 L888.5 362.4 L886.6 361.8 L884.7 361.3 L882.8 360.7 L880.9 360.1 L878.9 359.6 L877.0 359.0 L875.1 358.5 L873.2 357.9 L871.3 357.3 L869.3 356.8 L867.4 356.2 L865.5 355.7 L863.6 355.1 L861.6 354.6 L859.7 354.0 L857.8 353.5 L855.9 352.9 L854.0 352.3 L852.0 351.8 L850.1 351.2 L848.2 350.7 L846.3 350.1 L844.3 349.6 L842.4 349.0 L840.5 348.5 L838.6 347.9 L836.6 347.4 L834.7 346.8 L832.8 346.3 L830.9 345.7 L828.9 345.2 L827.0 344.6 L825.1 344.1 L823.2 343.5 L821.2 343.0 L819.3 342.5 L817.4 341.9 L815.5 341.4 L813.5 340.8 L811.6 340.3 L809.7 339.7 L807.8 339.2 L805.9 338.6 L803.9 338.1 L802.0 337.6 L800.1 337.0 L798.2 336.5 L796.2 335.9 L794.3 335.4 L792.4 334.8 L790.5 334.3 L788.5 333.7 L786.6 333.2 L784.7 332.6 L782.8 332.1 L780.8 331.5 L778.9 331.0 L777.0 330.4 L775.1 329.9 L773.2 329.3 L771.2 328.8 L769.3 328.2 L767.4 327.7 L765.5 327.1 L763.6 326.6 L761.7 326.0 L759.7 325.5 L757.8 324.9 L755.9 324.3 L754.0 323.8 L752.1 323.2 L750.1 322.6 L748.2 322.1 L746.3 321.5 L744.4 320.9 L742.5 320.4 L740.6 319.8 L738.7 319.2 L736.8 318.6 L734.8 318.1 L732.9 317.5 L731.0 316.9 L729.1 316.3 L727.2 315.7 L725.3 315.2 L723.4 314.6 L721.5 314.0 L719.6 313.4 L717.7 312.8 L715.8 312.2 L713.9 311.6 L712.0 311.0 L710.1 310.4 L708.2 309.8 L706.3 309.2 L704.4 308.5 L702.5 307.9 L700.6 307.3 L698.7 306.7 L696.8 306.1 L694.9 305.4 L693.0 304.8 L691.1 304.2 L689.2 303.5 L687.3 302.9 L685.5 302.3 L683.6 301.6 L681.7 301.0 L679.8 300.3 L677.9 299.7 L676.0 299.0 L674.2 298.3 L672.3 297.7 L670.4 297.0 L668.5 296.3 L666.6 295.7 L664.8 295.0 L662.9 294.3 L661.0 293.6 L659.1 292.9 L657.3 292.3 L655.4 291.6 L653.5 290.9 L651.7 290.2 L649.8 289.5 L647.9 288.8 L646.1 288.1 L644.2 287.3 L642.3 286.6 L640.5 285.9 L638.6 285.2 L636.8 284.5 L634.9 283.7 L633.1 283.0 L631.2 282.3 L629.3 281.5 L627.5 280.8 L625.6 280.1 L623.8 279.3 L621.9 278.6 L620.1 277.8 L618.2 277.1 L616.4 276.3 L614.6 275.6 L612.7 274.8 L610.9 274.1 L609.0 273.3 L607.2 272.5 L605.3 271.7 L603.5 271.0 L601.7 270.2 L599.8 269.4 L598.0 268.6 L596.2 267.9 L594.3 267.1 L592.5 266.3 L590.7 265.5 L588.8 264.7 L587.0 263.9 L585.2 263.1 L583.4 262.3 L581.5 261.5 L579.7 260.7 L577.9 259.9 L576.1 259.1 L574.2 258.3 L572.4 257.4 L570.6 256.6 L568.8 255.8 L567.0 255.0 L565.1 254.1 L563.3 253.3 L561.5 252.5 L559.7 251.7 L557.9 250.8 L556.1 250.0 L554.3 249.1 L552.5 248.3 L550.7 247.5 L548.8 246.6 L547.0 245.8 L545.2 244.9 L543.4 244.0 L541.6 243.2 L539.8 242.3 L538.0 241.5 L536.2 240.6 L534.4 239.7 L532.6 238.9 L530.8 238.0 L529.0 237.1 L527.2 236.3 L525.5 235.4 L523.7 234.5 L521.9 233.6 L520.1 232.8 L518.3 231.9 L516.5 231.0 L514.7 230.1 L512.9 229.2 L511.1 228.3 L509.3 227.4 L507.6 226.5 L505.8 225.6 L504.0 224.7 L502.2 223.9 L500.4 223.0 L498.6 222.1 L496.8 221.2 L495.0 220.3 L493.2 219.4 L491.4 218.5 L489.6 217.6 L487.8 216.7 L486.1 215.8 L484.3 214.9 L482.5 214.0 L480.7 213.2 L478.9 212.3 L477.1 211.4 L475.2 210.5 L473.4 209.7 L471.6 208.8 L469.8 207.9 L468.0 207.1 L466.2 206.2 L464.4 205.3 L462.6 204.5 L460.7 203.7 L458.9 202.8 L457.1 202.0 L455.2 201.1 L453.4 200.3 L451.6 199.5 L449.7 198.7 L447.9 197.9 L446.0 197.1 L444.2 196.3 L442.3 195.5 L440.5 194.7 L438.6 193.9 L436.8 193.2 L434.9 192.4 L433.0 191.6 L431.1 190.9 L429.3 190.2 L427.4 189.4 L425.5 188.7 L423.6 188.0 L421.7 187.3 L419.8 186.6 L417.9 185.9 L416.0 185.3 L414.1 184.6 L412.2 184.0 L410.3 183.3 L408.3 182.7 L406.4 182.1 L404.5 181.5 L402.5 180.9 L400.6 180.3 L398.6 179.8 L396.7 179.2 L394.7 178.7 L392.8 178.1 L390.8 177.6 L388.9 177.1 L386.9 176.6 L384.9 176.2 L382.9 175.7 L381.0 175.3 L379.0 174.8 L377.0 174.4 L375.0 174.0 L373.1 173.6 L371.1 173.2 L369.1 172.8 L367.1 172.5 L365.1 172.1 L363.1 171.8 L361.1 171.5 L359.1 171.1 L357.1 170.8 L355.1 170.5 L353.2 170.2 L351.2 169.9 L349.2 169.6 L347.2 169.4 L345.2 169.1 L343.2 168.8 L341.2 168.6 L339.2 168.3 L337.2 168.1 L335.2 167.9 L333.2 167.6 L331.2 167.4 L329.2 167.2 L327.2 167.0 L325.2 166.8 L323.2 166.6 L321.2 166.4 L319.2 166.2 L317.2 166.0 L315.2 165.8 L313.2 165.6 L311.2 165.4 L309.2 165.2 L307.2 165.0 L305.2 164.8 L303.2 164.7 L301.2 164.5 L299.3 164.3 L297.3 164.1 L295.3 163.9 L293.3 163.8 L291.3 163.6 L289.3 163.4 L287.3 163.2 L285.3 163.0 L283.3 162.9 L281.3 162.7 L279.4 162.5 L277.4 162.3 L275.4 162.1 L273.4 161.9 L271.4 161.7 L269.4 161.5 L267.5 161.3 L265.5 161.1 L263.5 160.9 L261.5 160.6 L259.6 160.4 L257.6 160.2 L255.6 159.9 L253.7 159.7 L251.7 159.4 L249.7 159.2 L247.7 158.9 L245.8 158.6 L243.8 158.3 L241.8 158.1 Z" fill="#000" stroke="#000" stroke-width="0.3" stroke-linejoin="round"/>
<path d="M241.0 160.2 L244.7 160.2 L248.5 160.3" fill="none" stroke="#ff0000" stroke-width="7.9"/>
<path d="M262.5 160.5 L265.8 160.6 L269.1 160.7 L272.5 160.9 L275.8 161.1 L279.1 161.4" fill="none" stroke="#ff0000" stroke-width="7.8"/>
<path d="M292.9 162.8 L296.2 163.1 L299.5 163.5 L302.9 163.7 L306.2 164.0 L309.5 164.3" fill="none" stroke="#ff0000" stroke-width="7.8"/>
<path d="M323.7 165.3 L327.0 165.6 L330.3 165.9 L333.7 166.1 L337.0 166.4 L340.3 166.7" fill="none" stroke="#ff0000" stroke-width="7.8"/>
<path d="M353.9 168.0 L357.2 168.4 L360.5 168.8 L363.9 169.2 L367.2 169.7 L370.5 170.1" fill="none" stroke="#ff0000" stroke-width="7.8"/>
<path d="M384.5 172.3 L387.8 172.8 L391.1 173.3 L394.3 173.9 L397.6 174.4 L400.9 175.0" fill="none" stroke="#ff0000" stroke-width="7.8"/>
<path d="M414.5 177.4 L417.8 178.0 L421.1 178.7 L424.3 179.3 L427.6 180.0 L430.9 180.7" fill="none" stroke="#ff0000" stroke-width="7.7"/>
<path d="M444.7 183.9 L448.0 184.7 L451.2 185.6 L454.4 186.4 L457.6 187.3 L460.8 188.3" fill="none" stroke="#ff0000" stroke-width="7.6"/>
<path d="M473.6 192.2 L476.8 193.3 L479.9 194.4 L483.1 195.6 L486.2 196.8 L489.3 198.1" fill="none" stroke="#ff0000" stroke-width="7.4"/>
<path d="M502.2 203.7 L505.3 205.2 L508.3 206.6 L511.3 208.0 L514.3 209.5 L517.3 211.0" fill="none" stroke="#ff0000" stroke-width="7.1"/>
<path d="M529.9 217.7 L532.9 219.3 L535.8 220.9 L538.8 222.5 L541.7 224.1 L544.6 225.7" fill="none" stroke="#ff0000" stroke-width="6.9"/>
<path d="M557.0 232.5 L560.0 234.1 L562.9 235.7 L565.9 237.3 L568.8 238.8 L571.8 240.4" fill="none" stroke="#ff0000" stroke-width="6.9"/>
<path d="M584.1 246.7 L587.1 248.2 L590.1 249.7 L593.1 251.1 L596.1 252.6 L599.1 254.0" fill="none" stroke="#ff0000" stroke-width="7.1"/>
<path d="M611.1 259.4 L614.1 260.8 L617.2 262.1 L620.2 263.5 L623.3 264.8 L626.4 266.1" fill="none" stroke="#ff0000" stroke-width="7.2"/>
<path d="M638.5 271.3 L641.6 272.6 L644.7 273.9 L647.7 275.1 L650.8 276.4 L653.9 277.6" fill="none" stroke="#ff0000" stroke-width="7.3"/>
<path d="M666.9 282.7 L670.0 283.9 L673.1 285.1 L676.3 286.3 L679.4 287.4 L682.6 288.5" fill="none" stroke="#ff0000" stroke-width="7.4"/>
<path d="M695.4 292.9 L698.6 294.0 L701.7 295.1 L704.9 296.3 L708.0 297.4 L711.1 298.6" fill="none" stroke="#ff0000" stroke-width="7.4"/>
<path d="M724.1 303.4 L727.3 304.5 L730.4 305.7 L733.6 306.7 L736.8 307.8 L739.9 308.8" fill="none" stroke="#ff0000" stroke-width="7.4"/>
<path d="M752.6 312.7 L755.8 313.7 L759.0 314.7 L762.2 315.7 L765.4 316.7 L768.5 317.8" fill="none" stroke="#ff0000" stroke-width="7.5"/>
<path d="M783.1 322.5 L786.2 323.6 L789.4 324.6 L792.6 325.6 L795.8 326.6 L799.0 327.6" fill="none" stroke="#ff0000" stroke-width="7.5"/>
<path d="M811.3 331.5 L814.5 332.5 L817.7 333.4 L820.9 334.4 L824.1 335.3 L827.3 336.3" fill="none" stroke="#ff0000" stroke-width="7.5"/>
<path d="M840.3 340.0 L843.5 340.9 L846.7 341.8 L849.9 342.8 L853.1 343.6 L856.3 344.5" fill="none" stroke="#ff0000" stroke-width="7.6"/>
<path d="M870.2 348.3 L873.5 349.2 L876.7 350.1 L879.9 351.0 L883.1 351.9 L886.3 352.8" fill="none" stroke="#ff0000" stroke-width="7.6"/>
<path d="M899.7 356.6 L903.2 357.6 L906.6 358.6 L910.0 359.5 L913.4 360.5 L916.8 361.5 L920.2 362.4 L923.7 363.4 L927.1 364.3" fill="none" stroke="#ff0000" stroke-width="7.6"/>
<path d="M938.4 367.5 L941.6 368.4 L944.8 369.3 L948.0 370.3 L951.2 371.2 L954.4 372.2" fill="none" stroke="#ff0000" stroke-width="7.5"/>
<path d="M968.7 376.5 L971.9 377.4 L975.1 378.4 L978.3 379.4 L981.5 380.4 L984.7 381.4" fill="none" stroke="#ff0000" stroke-width="7.5"/>
<path d="M997.3 385.3 L1000.5 386.3 L1003.7 387.3 L1006.9 388.3 L1010.1 389.2 L1013.3 390.2" fill="none" stroke="#ff0000" stroke-width="7.5"/>
<path d="M1027.0 394.1 L1030.2 395.1 L1033.4 396.0 L1036.6 397.0 L1039.8 397.9 L1043.0 398.9" fill="none" stroke="#ff0000" stroke-width="7.5"/>
<path d="M1056.0 402.7 L1059.1 403.7 L1062.3 404.8 L1065.5 405.8 L1068.6 406.9 L1071.8 408.1" fill="none" stroke="#ff0000" stroke-width="7.4"/>
<path d="M1084.9 413.0 L1088.0 414.2 L1091.1 415.3 L1094.3 416.5 L1097.4 417.6 L1100.6 418.7" fill="none" stroke="#ff0000" stroke-width="7.4"/>
<path d="M1114.0 423.6 L1117.1 424.7 L1120.2 425.9 L1123.4 427.1 L1126.5 428.3 L1129.6 429.5" fill="none" stroke="#ff0000" stroke-width="7.3"/>
<path d="M1143.0 434.8 L1146.0 436.1 L1149.1 437.5 L1152.1 438.9 L1155.1 440.4 L1158.1 441.9" fill="none" stroke="#ff0000" stroke-width="7.1"/>
<path d="M1170.1 448.4 L1172.9 450.1 L1175.8 451.9 L1178.6 453.7 L1181.4 455.5 L1184.2 457.4" fill="none" stroke="#ff0000" stroke-width="6.6"/>
<path d="M1196.2 466.1 L1198.8 468.2 L1201.3 470.4 L1203.8 472.6 L1206.3 474.9 L1208.7 477.2" fill="none" stroke="#ff0000" stroke-width="5.9"/>
<path d="M1217.5 486.7 L1219.6 489.3 L1221.6 491.9 L1223.5 494.7 L1225.3 497.5 L1227.0 500.4" fill="none" stroke="#ff0000" stroke-width="6.5"/>
<path d="M1231.7 509.9 L1232.8 513.0 L1233.8 516.2 L1234.7 519.4 L1235.4 522.7 L1236.0 526.0" fill="none" stroke="#ff0000" stroke-width="7.6"/>
<path d="M1237.2 539.5 L1237.2 542.8 L1237.2 546.1 L1237.0 549.5 L1236.7 552.8 L1236.2 556.1" fill="none" stroke="#ff0000" stroke-width="7.8"/>
<path d="M1233.4 569.2 L1232.7 572.5 L1232.0 575.8 L1231.4 579.0 L1230.8 582.3 L1230.2 585.6" fill="none" stroke="#ff0000" stroke-width="7.7"/>
<path d="M1227.7 599.5 L1227.2 602.8 L1226.6 606.1 L1226.0 609.3 L1225.4 612.6 L1224.9 615.9" fill="none" stroke="#ff0000" stroke-width="7.7"/>
<path d="M1222.6 629.4 L1222.1 632.7 L1221.6 636.0 L1221.0 639.2 L1220.5 642.5 L1220.0 645.8" fill="none" stroke="#ff0000" stroke-width="7.8"/>
<path d="M1218.7 654.7 L1218.2 658.0 L1217.9 661.3 L1217.5 664.7 L1217.2 668.0 L1217.0 671.3" fill="none" stroke="#ff0000" stroke-width="7.8"/>
<path d="M1215.8 689.6 L1215.6 692.9 L1215.5 696.2 L1215.3 699.6 L1215.2 702.9 L1215.1 706.2" fill="none" stroke="#ff0000" stroke-width="7.9"/>
<path d="M1215.0 719.6 L1215.0 722.9 L1215.0 726.2 L1215.0 729.6 L1215.0 732.9 L1215.0 736.2" fill="none" stroke="#ff0000" stroke-width="7.9"/>
<path d="M1215.2 749.6 L1215.3 752.9 L1215.4 756.2 L1215.4 759.6 L1215.5 762.9 L1215.6 766.2" fill="none" stroke="#ff0000" stroke-width="7.9"/>
<path d="M1216.2 779.6 L1216.3 782.9 L1216.5 786.2 L1216.7 789.6 L1216.9 792.9 L1217.0 796.2" fill="none" stroke="#ff0000" stroke-width="7.8"/>
<path d="M1218.0 811.5 L1218.3 814.8 L1218.6 818.1 L1219.0 821.5 L1219.4 824.8 L1219.9 828.1" fill="none" stroke="#ff0000" stroke-width="7.8"/>
<path d="M1222.2 841.6 L1222.7 844.9 L1223.2 848.1 L1223.7 851.5 L1224.3 854.8 L1224.8 858.1" fill="none" stroke="#ff0000" stroke-width="7.8"/>
<path d="M1226.8 871.5 L1227.2 874.8 L1227.6 878.1 L1228.0 881.5 L1228.4 884.8 L1228.7 888.1" fill="none" stroke="#ff0000" stroke-width="7.8"/>
<path d="M1229.9 901.4 L1230.1 904.7 L1230.3 908.0 L1230.3 911.4 L1230.3 914.7 L1230.1 918.0" fill="none" stroke="#ff0000" stroke-width="7.9"/>
<path d="M1227.3 932.3 L1226.0 935.3 L1224.3 938.2 L1222.4 940.9 L1220.2 943.5 L1217.9 945.9" fill="none" stroke="#ff0000" stroke-width="6.4"/>
<path d="M1208.2 956.8 L1206.1 959.4 L1203.8 961.8 L1201.4 964.1 L1198.9 966.4 L1196.4 968.6" fill="none" stroke="#ff0000" stroke-width="5.7"/>
<path d="M1187.1 976.6 L1184.5 978.7 L1181.9 980.8 L1179.3 982.9 L1176.7 985.0 L1174.1 987.1" fill="none" stroke="#ff0000" stroke-width="6.1"/>
<path d="M1162.4 996.0 L1159.7 998.0 L1157.1 999.9 L1154.3 1001.9 L1151.6 1003.8 L1148.9 1005.7" fill="none" stroke="#ff0000" stroke-width="6.4"/>
<path d="M1137.7 1013.3 L1134.9 1015.1 L1132.1 1017.0 L1129.3 1018.8 L1126.5 1020.7 L1123.8 1022.6" fill="none" stroke="#ff0000" stroke-width="6.5"/>
<path d="M1111.9 1030.4 L1109.1 1032.2 L1106.2 1033.9 L1103.4 1035.6 L1100.4 1037.3 L1097.5 1038.8" fill="none" stroke="#ff0000" stroke-width="6.8"/>
<path d="M1085.3 1045.1 L1082.3 1046.5 L1079.3 1048.0 L1076.3 1049.6 L1073.3 1051.1 L1070.3 1052.6" fill="none" stroke="#ff0000" stroke-width="7.0"/>
<path d="M1057.3 1059.0 L1054.3 1060.5 L1051.3 1062.0 L1048.3 1063.6 L1045.3 1065.1 L1042.4 1066.6" fill="none" stroke="#ff0000" stroke-width="7.0"/>
<path d="M1030.3 1072.9 L1027.3 1074.5 L1024.4 1076.0 L1021.4 1077.6 L1018.4 1079.0 L1015.4 1080.5" fill="none" stroke="#ff0000" stroke-width="7.0"/>
<path d="M1003.1 1086.6 L1000.2 1088.2 L997.3 1089.9 L994.5 1091.7 L991.7 1093.5 L988.9 1095.4" fill="none" stroke="#ff0000" stroke-width="6.6"/>
<path d="M976.7 1104.7 L974.2 1107.0 L972.0 1109.4 L969.9 1112.0 L968.1 1114.9 L966.6 1117.8" fill="none" stroke="#ff0000" stroke-width="6.2"/>
<path d="M962.9 1127.6 L962.0 1130.8 L961.3 1134.1 L960.8 1137.4 L960.8 1140.7 L961.5 1143.9" fill="none" stroke="#ff0000" stroke-width="7.8"/>
<path d="M970.6 1158.2 L973.0 1160.5 L975.6 1162.7 L978.2 1164.7 L981.0 1166.6 L983.7 1168.5" fill="none" stroke="#ff0000" stroke-width="6.2"/>
<path d="M994.4 1174.8 L997.4 1176.4 L1000.4 1177.9 L1003.4 1179.3 L1006.5 1180.6 L1009.6 1181.8" fill="none" stroke="#ff0000" stroke-width="7.1"/>
<path d="M1022.9 1186.2 L1026.1 1187.2 L1029.3 1188.1 L1032.5 1189.1 L1035.7 1190.0 L1039.0 1190.8" fill="none" stroke="#ff0000" stroke-width="7.5"/>
<path d="M1051.6 1193.8 L1054.9 1194.5 L1058.2 1195.2 L1061.4 1196.0 L1064.7 1196.7 L1068.0 1197.4" fill="none" stroke="#ff0000" stroke-width="7.7"/>
<path d="M1081.6 1200.1 L1084.9 1200.7 L1088.2 1201.3 L1091.4 1201.9 L1094.7 1202.5 L1098.0 1203.1" fill="none" stroke="#ff0000" stroke-width="7.7"/>
<path d="M1112.4 1205.4 L1115.7 1205.9 L1119.0 1206.4 L1122.4 1206.8 L1125.7 1207.2 L1129.0 1207.6" fill="none" stroke="#ff0000" stroke-width="7.8"/>
<path d="M1142.4 1208.8 L1145.7 1209.1 L1149.0 1209.4 L1152.4 1209.8 L1155.7 1210.1 L1159.0 1210.4" fill="none" stroke="#ff0000" stroke-width="7.8"/>
<path d="M1172.3 1211.7 L1175.6 1212.0 L1178.9 1212.3 L1182.3 1212.5 L1185.6 1212.8 L1188.9 1213.0" fill="none" stroke="#ff0000" stroke-width="7.8"/>
<path d="M1203.2 1213.8 L1206.5 1214.0 L1209.8 1214.3 L1213.2 1214.5 L1216.5 1214.8 L1219.8 1215.1" fill="none" stroke="#ff0000" stroke-width="7.8"/>
<path d="M1233.0 1216.4 L1236.3 1216.7 L1239.6 1217.1 L1243.0 1217.3 L1246.3 1217.6 L1249.6 1217.9" fill="none" stroke="#ff0000" stroke-width="7.8"/>
<path d="M1263.6 1219.0 L1266.9 1219.2 L1270.2 1219.5 L1273.6 1219.7 L1276.9 1220.0 L1280.2 1220.2" fill="none" stroke="#ff0000" stroke-width="7.8"/>
<path d="M1294.2 1221.1 L1297.5 1221.3 L1300.8 1221.5 L1304.2 1221.7 L1307.5 1221.8 L1310.8 1221.9" fill="none" stroke="#ff0000" stroke-width="7.8"/>
<path d="M1324.9 1222.4 L1328.2 1222.5 L1331.5 1222.6 L1334.9 1222.6 L1338.2 1222.7 L1341.5 1222.8" fill="none" stroke="#ff0000" stroke-width="7.9"/>
<rect x="241.2" y="147.2" width="1102.3" height="1102.3" fill="none" stroke="#000" stroke-width="2.7"/>
<g stroke="#000" stroke-width="2.7" fill="none">
<line x1="226.4" y1="1249.5" x2="241.2" y2="1249.5"/>
<line x1="226.4" y1="1139.7" x2="241.2" y2="1139.7"/>
<line x1="226.4" y1="1028.6" x2="241.2" y2="1028.6"/>
<line x1="226.4" y1="919.2" x2="241.2" y2="919.2"/>
<line x1="226.4" y1="807.2" x2="241.2" y2="807.2"/>
<line x1="226.4" y1="698.2" x2="241.2" y2="698.2"/>
<line x1="226.4" y1="588.8" x2="241.2" y2="588.8"/>
<line x1="226.4" y1="477.2" x2="241.2" y2="477.2"/>
<line x1="226.4" y1="367.9" x2="241.2" y2="367.9"/>
<line x1="226.4" y1="259.0" x2="241.2" y2="259.0"/>
<line x1="226.4" y1="147.2" x2="241.2" y2="147.2"/>
<line x1="234.2" y1="1194.6" x2="241.2" y2="1194.6"/>
<line x1="234.2" y1="1084.1" x2="241.2" y2="1084.1"/>
<line x1="234.2" y1="973.9" x2="241.2" y2="973.9"/>
<line x1="234.2" y1="863.2" x2="241.2" y2="863.2"/>
<line x1="234.2" y1="752.7" x2="241.2" y2="752.7"/>
<line x1="234.2" y1="643.5" x2="241.2" y2="643.5"/>
<line x1="234.2" y1="533.0" x2="241.2" y2="533.0"/>
<line x1="234.2" y1="422.5" x2="241.2" y2="422.5"/>
<line x1="234.2" y1="313.4" x2="241.2" y2="313.4"/>
<line x1="234.2" y1="203.9" x2="241.2" y2="203.9"/>
<line x1="241.2" y1="1249.5" x2="241.2" y2="1264.5"/>
<line x1="424.9" y1="1249.5" x2="424.9" y2="1264.5"/>
<line x1="609.2" y1="1249.5" x2="609.2" y2="1264.5"/>
<line x1="792.4" y1="1249.5" x2="792.4" y2="1264.5"/>
<line x1="975.4" y1="1249.5" x2="975.4" y2="1264.5"/>
<line x1="1159.6" y1="1249.5" x2="1159.6" y2="1264.5"/>
<line x1="1343.5" y1="1249.5" x2="1343.5" y2="1264.5"/>
<line x1="333.0" y1="1249.5" x2="333.0" y2="1256.5"/>
<line x1="517.0" y1="1249.5" x2="517.0" y2="1256.5"/>
<line x1="700.8" y1="1249.5" x2="700.8" y2="1256.5"/>
<line x1="883.9" y1="1249.5" x2="883.9" y2="1256.5"/>
<line x1="1067.5" y1="1249.5" x2="1067.5" y2="1256.5"/>
<line x1="1251.5" y1="1249.5" x2="1251.5" y2="1256.5"/>
</g>
<text class="ytick" text-anchor="end" transform="translate(217.2 1261.2) scale(0.922 1)">0.0</text>
<text class="ytick" text-anchor="end" transform="translate(217.2 1151.0) scale(0.922 1)">0.1</text>
<text class="ytick" text-anchor="end" transform="translate(217.2 1040.7) scale(0.922 1)">0.2</text>
<text class="ytick" text-anchor="end" transform="translate(217.2 930.5) scale(0.922 1)">0.3</text>
<text class="ytick" text-anchor="end" transform="translate(217.2 820.2) scale(0.922 1)">0.4</text>
<text class="ytick" text-anchor="end" transform="translate(217.2 710.0) scale(0.922 1)">0.5</text>
<text class="ytick" text-anchor="end" transform="translate(217.2 599.7) scale(0.922 1)">0.6</text>
<text class="ytick" text-anchor="end" transform="translate(217.2 489.5) scale(0.922 1)">0.7</text>
<text class="ytick" text-anchor="end" transform="translate(217.2 379.2) scale(0.922 1)">0.8</text>
<text class="ytick" text-anchor="end" transform="translate(217.2 269.0) scale(0.922 1)">0.9</text>
<text class="ytick" text-anchor="end" transform="translate(217.2 158.7) scale(0.922 1)">1.0</text>
<text class="tick" text-anchor="middle" transform="translate(241.2 1305.6) scale(0.97 1)">0.70</text>
<text class="tick" text-anchor="middle" transform="translate(424.9 1305.6) scale(0.97 1)">0.75</text>
<text class="tick" text-anchor="middle" transform="translate(609.2 1305.6) scale(0.97 1)">0.80</text>
<text class="tick" text-anchor="middle" transform="translate(792.4 1305.6) scale(0.97 1)">0.85</text>
<text class="tick" text-anchor="middle" transform="translate(975.4 1305.6) scale(0.97 1)">0.90</text>
<text class="tick" text-anchor="middle" transform="translate(1159.6 1305.6) scale(0.97 1)">0.95</text>
<text class="tick" text-anchor="middle" transform="translate(1343.5 1305.6) scale(0.97 1)">1.00</text>
<text class="title" text-anchor="middle" transform="translate(103.4 698.3) rotate(-90) scale(0.96 1.01)">H</text>
<text class="title" text-anchor="middle" transform="translate(790 1379.6) scale(1.23 1.04)" style="stroke:#000;stroke-width:0px;font-size:73px">η</text>
<line x1="308.5" y1="1042.3" x2="479.5" y2="1042.3" stroke="#000" stroke-width="7.8"/>
<line x1="308.5" y1="1132" x2="479.5" y2="1132" stroke="#ff0000" stroke-width="7.8" stroke-dasharray="18 12.4"/>
<text class="leg" transform="translate(494.5 1067.5) scale(1.019 1)">Ori</text>
<text class="leg" transform="translate(494.5 1157) scale(1.048 1)">Opt</text>
</svg>
</body>
</html>
